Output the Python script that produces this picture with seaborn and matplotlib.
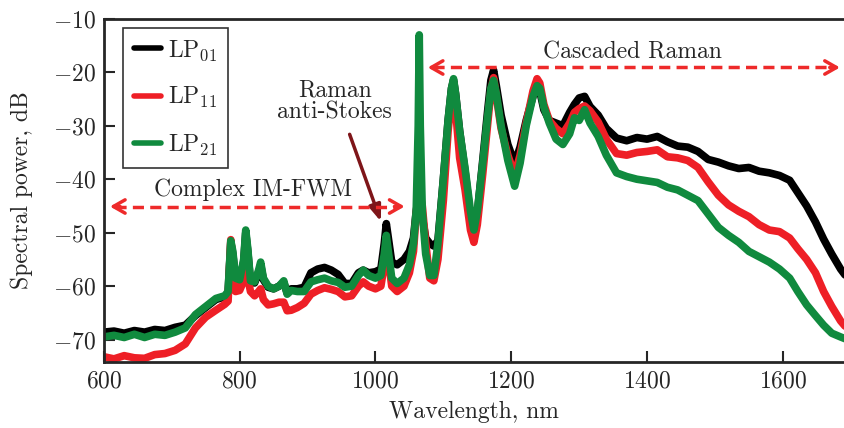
import numpy as np
import pandas as pd
import matplotlib
matplotlib.use("Agg")
import matplotlib.pyplot as plt
import seaborn as sns
from matplotlib.lines import Line2D

# ---------------- data ----------------
wavelength = [600, 615, 630, 645, 660, 675, 690, 705, 720, 735, 750, 765, 778,
              783, 787, 790, 794, 800, 806, 809, 812, 816, 822, 828, 831, 835,
              842, 850, 858, 865, 870, 876, 885, 895, 905, 915, 925, 935, 945,
              955, 965, 975, 982, 990, 1000, 1008, 1013, 1016, 1019, 1024, 1032,
              1042, 1050, 1056, 1060, 1063, 1064.5, 1066, 1069, 1074, 1080, 1086,
              1092, 1100, 1107, 1112, 1115, 1118, 1124, 1132, 1140, 1145, 1150,
              1158, 1165, 1170, 1174, 1178, 1185, 1195, 1205, 1213, 1222, 1232,
              1238, 1242, 1248, 1256, 1266, 1276, 1286, 1293, 1300, 1308, 1316,
              1328, 1340, 1355, 1370, 1385, 1400, 1415, 1430, 1445, 1460, 1475,
              1490, 1505, 1520, 1535, 1550, 1565, 1580, 1595, 1610, 1622, 1635,
              1648, 1660, 1672, 1685, 1695]

lp01 = [-68.6, -68.4, -68.8, -68.3, -68.6, -68.1, -68.3, -67.7, -67.3, -65.5, -64.0, -62.5, -62.0,
        -61.2, -51.8, -54.0, -58.8, -59.0, -55.5, -50.0, -53.5, -59.2, -59.4, -57.5, -56.0, -58.8,
        -60.2, -60.5, -60.0, -59.3, -61.3, -60.5, -60.5, -60.2, -57.5, -56.8, -56.5, -57.0, -57.8,
        -59.5, -59.5, -57.5, -57.0, -57.5, -57.3, -56.8, -52.0, -48.3, -51.0, -55.5, -56.0,
        -55.0, -53.5, -51.0, -46.0, -43.5, -42.5, -44.0, -47.0, -51.0, -52.0, -52.5,
        -51.5, -40.0, -29.0, -23.0, -21.5, -24.0, -31.0, -38.5, -47.0, -50.0, -46.5,
        -36.5, -27.5, -21.5, -19.6, -22.5, -28.0, -33.5, -37.0, -34.0, -29.0, -24.5,
        -22.5, -23.5, -27.0, -29.0, -29.5, -30.0, -27.5, -26.0, -24.8, -24.5, -26.4,
        -28.0, -30.5, -32.3, -32.8, -32.2, -32.5, -32.0, -33.0, -33.8, -34.0, -34.8,
        -36.3, -36.8, -37.5, -38.0, -37.8, -38.5, -38.8, -39.3, -40.2, -42.5, -45.0,
        -48.0, -51.2, -54.0, -56.8, -58.5]

lp11 = [-73.2, -73.6, -73.0, -73.4, -73.5, -72.8, -72.6, -72.0, -70.8, -67.8, -65.8, -64.5, -63.4,
        -62.8, -51.3, -55.5, -61.0, -60.8, -59.0, -57.5, -58.5, -61.0, -61.8, -61.0, -60.5, -62.5,
        -63.5, -63.3, -63.0, -63.0, -64.6, -64.5, -64.0, -63.2, -61.5, -60.8, -60.3, -60.6, -61.0,
        -62.0, -61.8, -60.0, -59.2, -60.0, -60.5, -60.0, -56.0, -51.8, -55.0, -60.0, -61.0,
        -60.0, -57.5, -53.5, -46.5, -43.0, -42.5, -43.0, -45.0, -52.0, -58.5, -59.0,
        -55.0, -44.0, -31.0, -24.5, -22.0, -27.0, -36.0, -42.0, -49.5, -51.8, -48.5,
        -39.0, -30.0, -23.5, -21.0, -24.5, -30.5, -35.5, -39.2, -35.5, -29.5, -23.5,
        -21.2, -22.0, -26.0, -29.0, -30.5, -31.5, -29.5, -27.5, -26.8, -26.3, -27.2,
        -29.3, -32.5, -35.2, -35.5, -35.0, -34.8, -34.5, -35.8, -36.0, -36.5, -37.8,
        -40.5, -43.0, -44.8, -46.0, -47.0, -48.5, -49.5, -49.8, -51.0, -53.0, -55.0,
        -57.5, -61.0, -63.8, -66.5, -68.0]

lp21 = [-69.5, -69.2, -69.6, -69.0, -69.6, -69.0, -69.2, -68.6, -67.8, -65.3, -63.8, -62.3, -61.8,
        -61.0, -51.5, -53.5, -58.5, -58.8, -55.0, -49.5, -53.0, -59.0, -59.2, -57.0, -55.5, -58.5,
        -60.0, -60.5, -60.0, -59.0, -61.5, -60.8, -61.0, -61.0, -59.2, -58.8, -58.5, -59.0, -59.3,
        -60.2, -60.0, -58.0, -57.0, -58.0, -58.5, -58.0, -54.0, -50.5, -53.5, -58.5, -59.5,
        -58.5, -56.0, -52.0, -46.0, -30.0, -13.0, -30.0, -46.0, -54.0, -58.0, -58.0,
        -52.0, -40.0, -29.0, -23.0, -21.2, -24.0, -31.0, -38.0, -46.0, -49.5, -46.0,
        -37.0, -28.5, -23.0, -21.5, -24.0, -30.0, -36.5, -41.3, -37.0, -30.0, -24.5,
        -22.5, -23.0, -26.5, -29.5, -32.5, -33.5, -31.5, -28.5, -29.0, -27.0, -29.5,
        -32.0, -35.5, -38.8, -39.5, -40.0, -40.3, -40.6, -41.5, -42.0, -43.0, -44.0,
        -46.5, -49.0, -50.5, -51.8, -53.5, -54.5, -55.5, -56.8, -58.5, -61.0, -63.5,
        -65.5, -67.3, -68.8, -69.5, -70.0]

modes = ["LP01", "LP11", "LP21"]
mode_labels = ["LP$_{01}$", "LP$_{11}$", "LP$_{21}$"]
x_ticks = [600, 800, 1000, 1200, 1400, 1600]
y_ticks = [-70, -60, -50, -40, -30, -20, -10]

# ---------------- styling ----------------
sns.set_theme(style="ticks")
plt.rcParams["font.family"] = ["cmr10", "DejaVu Serif"]
plt.rcParams["mathtext.fontset"] = "cm"
plt.rcParams["axes.formatter.use_mathtext"] = True
plt.rcParams["axes.unicode_minus"] = True

colors = {"LP01": "#000000", "LP11": "#ee1f26", "LP21": "#108a3e"}
arrow_red = "#ee2a2a"
dark_red = "#7e1519"

df = pd.DataFrame({
    "wavelength": wavelength * 3,
    "power": lp01 + lp11 + lp21,
    "mode": [modes[0]] * len(lp01) + [modes[1]] * len(lp11) + [modes[2]] * len(lp21),
})

fig = plt.figure(figsize=(8.44, 4.28), dpi=100)
ax = fig.add_axes([0.123, 0.154, 0.877, 0.802])

sns.lineplot(data=df, x="wavelength", y="power", hue="mode", hue_order=modes,
             palette=colors, estimator=None, sort=False, lw=5.5, legend=False, ax=ax)

ax.set_xlim(600, 1690)
ax.set_ylim(-74.2, -10)
ax.set_xticks(x_ticks)
ax.set_yticks(y_ticks)
ax.tick_params(direction="in", length=8, width=1.5, labelsize=17, pad=6,
               top=False, right=False)
for s in ["left", "bottom", "top"]:
    ax.spines[s].set_linewidth(2)
ax.spines["right"].set_visible(False)

ax.set_xlabel("Wavelength, nm", fontsize=17, labelpad=6)
ax.set_ylabel("Spectral power, dB", fontsize=17, labelpad=14)

handles = [Line2D([0], [0], color=colors[m], lw=4) for m in modes]
leg = ax.legend(handles, mode_labels, loc="upper left", bbox_to_anchor=(0.026, 0.974),
                borderaxespad=0, fontsize=17, frameon=True, fancybox=False,
                edgecolor="black", handlelength=1.15, handletextpad=0.3,
                labelspacing=0.95, borderpad=0.45)
leg.get_frame().set_linewidth(1.2)

# annotations
ax.text(1378, -16.2, "Cascaded Raman", ha="center", va="center", fontsize=17)
ax.text(819, -41.9, "Complex IM-FWM", ha="center", va="center", fontsize=17)
ax.text(940, -25.4, "Raman\nanti-Stokes", ha="center", va="center", fontsize=17,
        linespacing=1.0)

def dashed_double_arrow(x0, x1, y):
    ax.plot([x0 + 8, x1 - 8], [y, y], ls=(0, (3.2, 1.8)), lw=2.5, color=arrow_red,
            zorder=5)
    ax.annotate("", xy=(x0, y), xytext=(x0 + 15, y),
                arrowprops=dict(arrowstyle="->,head_length=0.7,head_width=0.4",
                                lw=2.5, color=arrow_red, shrinkA=0, shrinkB=0), zorder=5)
    ax.annotate("", xy=(x1, y), xytext=(x1 - 15, y),
                arrowprops=dict(arrowstyle="->,head_length=0.7,head_width=0.4",
                                lw=2.5, color=arrow_red, shrinkA=0, shrinkB=0), zorder=5)

dashed_double_arrow(1077, 1684, -19.1)
dashed_double_arrow(609, 1043, -45.1)

ax.annotate("", xy=(1008, -47.9), xytext=(962, -31.6),
            arrowprops=dict(arrowstyle="-|>,head_length=0.8,head_width=0.3",
                            lw=2.5, color=dark_red, shrinkA=0, shrinkB=0))

fig.savefig("out.png", dpi=100)
